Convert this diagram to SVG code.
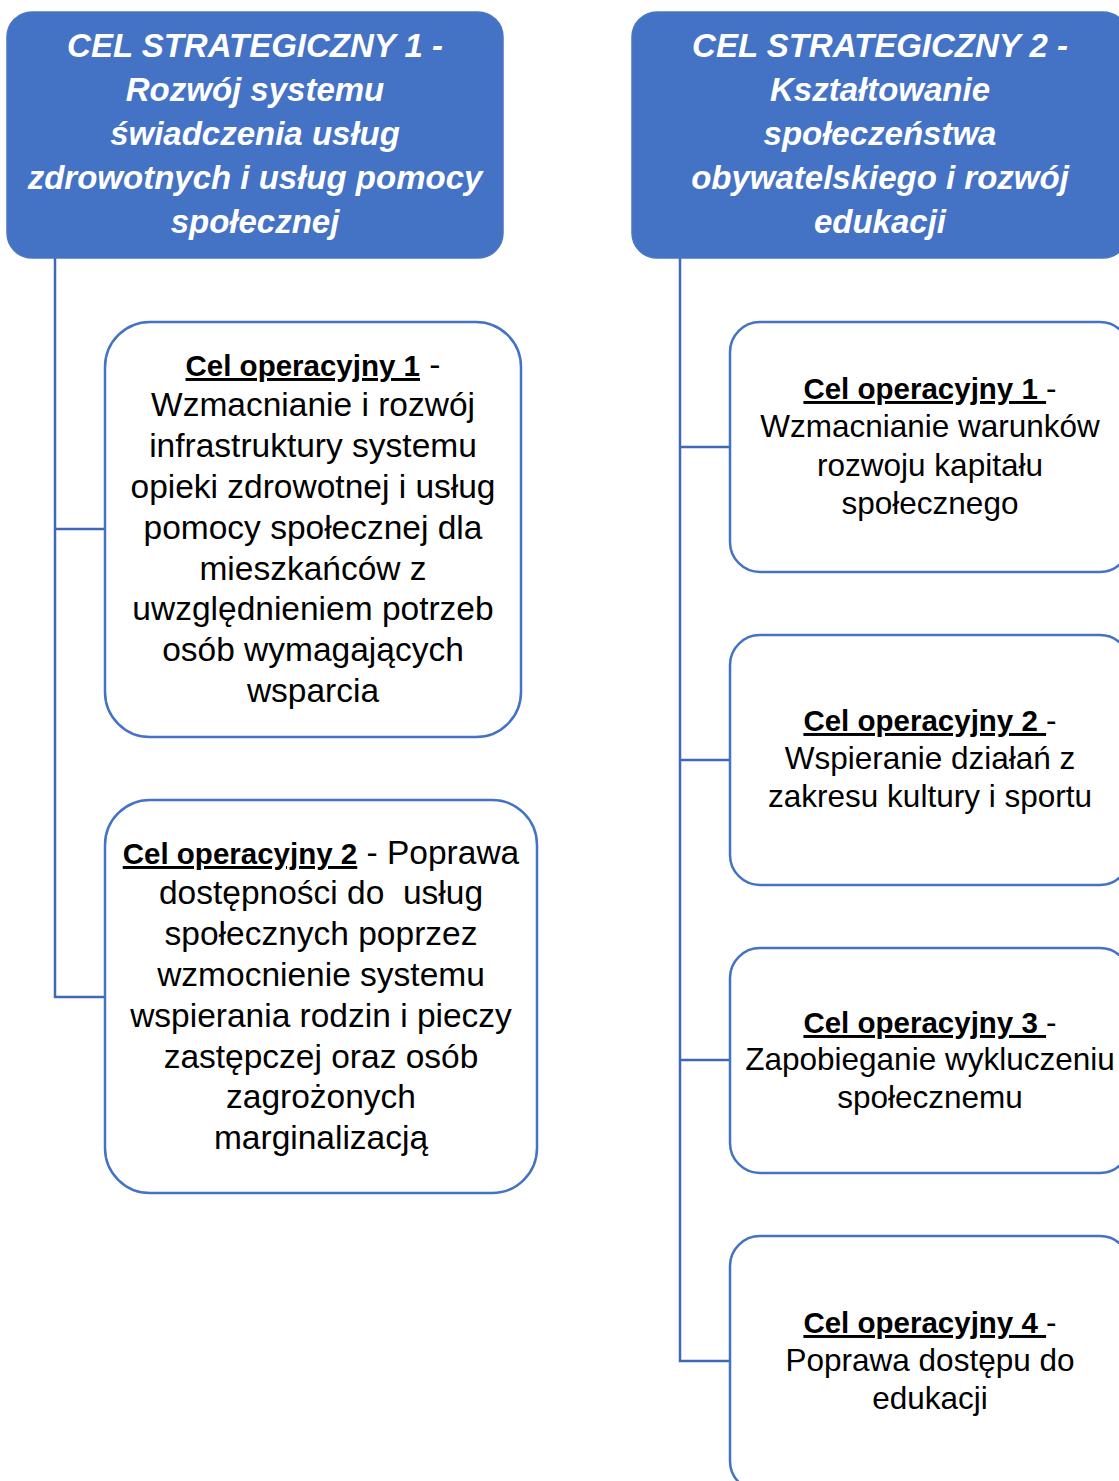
<svg xmlns="http://www.w3.org/2000/svg" width="1119" height="1481" viewBox="0 0 1119 1481">
<style>
.hdr{fill:#4472C4;stroke:#4A76C6;stroke-width:1.5}
.box{fill:#FFFFFF;stroke:#4472C4;stroke-width:2.5}
.conn{fill:none;stroke:#4068B8;stroke-width:2.5}
.ht{font-family:"Liberation Sans",Arial,sans-serif;font-weight:bold;font-style:italic;font-size:33px;fill:#FFFFFF;text-anchor:middle}
.bt{font-family:"Liberation Sans",Arial,sans-serif;font-size:33.5px;fill:#000000;text-anchor:middle}
.bs{font-family:"Liberation Sans",Arial,sans-serif;font-size:31.5px;fill:#000000;text-anchor:middle}
.u{font-weight:bold;text-decoration:underline;font-size:29.5px}
</style>
<rect width="1119" height="1481" fill="#FFFFFF"/>
<g id="connectors">
<path class="conn" d="M55,258 V997 H105 M55,529 H105"/>
<path class="conn" d="M680,258 V1361 H730 M680,447 H730 M680,760 H730 M680,1060 H730"/>
</g>
<g id="strategic1">
<rect class="hdr" x="7" y="12" width="496" height="246" rx="25"/>
<text class="ht"><tspan x="255" y="57">CEL STRATEGICZNY 1 -</tspan><tspan x="255" y="101">Rozwój systemu</tspan><tspan x="255" y="145">świadczenia usług</tspan><tspan x="255" y="189">zdrowotnych i usług pomocy</tspan><tspan x="255" y="233">społecznej</tspan></text>
</g>
<g id="strategic2">
<rect class="hdr" x="632" y="12" width="496" height="246" rx="25"/>
<text class="ht"><tspan x="880" y="57">CEL STRATEGICZNY 2 -</tspan><tspan x="880" y="101">Kształtowanie</tspan><tspan x="880" y="145">społeczeństwa</tspan><tspan x="880" y="189">obywatelskiego i rozwój</tspan><tspan x="880" y="233">edukacji</tspan></text>
</g>
<g id="op1-1">
<rect class="box" x="105" y="322" width="416" height="415" rx="45"/>
<text class="bt"><tspan x="313" y="376"><tspan class="u">Cel operacyjny 1</tspan> -</tspan><tspan x="313" y="416">Wzmacnianie i rozwój</tspan><tspan x="313" y="457">infrastruktury systemu</tspan><tspan x="313" y="498">opieki zdrowotnej i usług</tspan><tspan x="313" y="539">pomocy społecznej dla</tspan><tspan x="313" y="580">mieszkańców z</tspan><tspan x="313" y="620">uwzględnieniem potrzeb</tspan><tspan x="313" y="661">osób wymagających</tspan><tspan x="313" y="702">wsparcia</tspan></text>
</g>
<g id="op1-2">
<rect class="box" x="105" y="800" width="432" height="393" rx="45"/>
<text class="bt"><tspan x="321" y="864"><tspan class="u">Cel operacyjny 2</tspan> - Poprawa</tspan><tspan x="321" y="904">dostępności do&#160; usług</tspan><tspan x="321" y="945">społecznych poprzez</tspan><tspan x="321" y="986">wzmocnienie systemu</tspan><tspan x="321" y="1027">wspierania rodzin i pieczy</tspan><tspan x="321" y="1068">zastępczej oraz osób</tspan><tspan x="321" y="1108">zagrożonych</tspan><tspan x="321" y="1149">marginalizacją</tspan></text>
</g>
<g id="op2-1">
<rect class="box" x="730" y="322" width="400" height="250" rx="30"/>
<text class="bs"><tspan x="930" y="399"><tspan class="u">Cel operacyjny 1 </tspan>-</tspan><tspan x="930" y="437">Wzmacnianie warunków</tspan><tspan x="930" y="476">rozwoju kapitału</tspan><tspan x="930" y="514">społecznego</tspan></text>
</g>
<g id="op2-2">
<rect class="box" x="730" y="635" width="400" height="250" rx="30"/>
<text class="bs"><tspan x="930" y="731"><tspan class="u">Cel operacyjny 2 </tspan>-</tspan><tspan x="930" y="769">Wspieranie działań z</tspan><tspan x="930" y="807">zakresu kultury i sportu</tspan></text>
</g>
<g id="op2-3">
<rect class="box" x="730" y="948" width="400" height="225" rx="30"/>
<text class="bs"><tspan x="930" y="1033"><tspan class="u">Cel operacyjny 3 </tspan>-</tspan><tspan x="930" y="1070">Zapobieganie wykluczeniu</tspan><tspan x="930" y="1108">społecznemu</tspan></text>
</g>
<g id="op2-4">
<rect class="box" x="730" y="1236" width="400" height="255" rx="30"/>
<text class="bs"><tspan x="930" y="1333"><tspan class="u">Cel operacyjny 4 </tspan>-</tspan><tspan x="930" y="1371">Poprawa dostępu do</tspan><tspan x="930" y="1409">edukacji</tspan></text>
</g>
</svg>
